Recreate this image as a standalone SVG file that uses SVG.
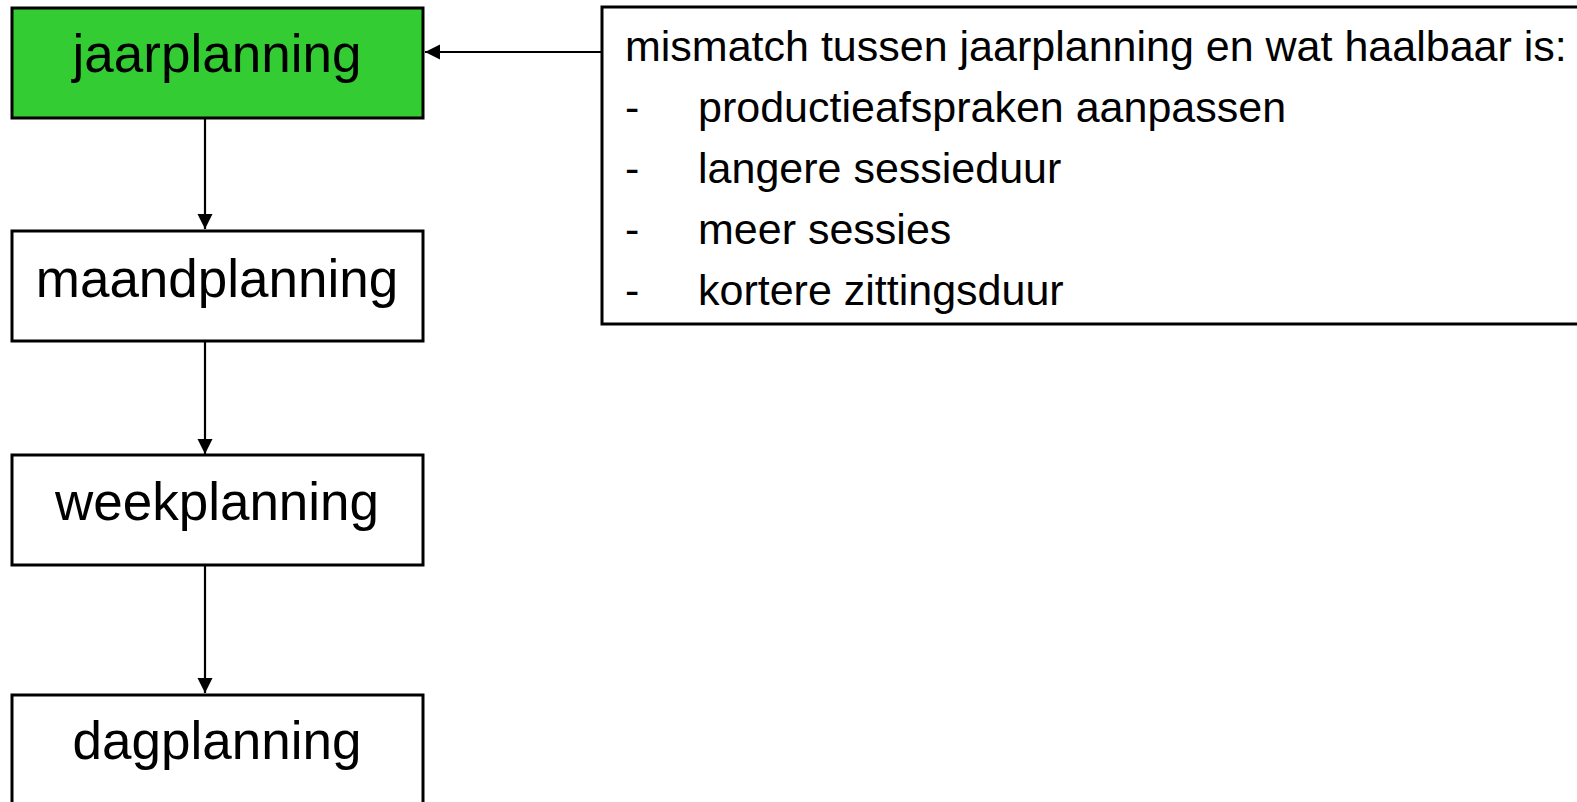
<svg xmlns="http://www.w3.org/2000/svg" width="1577" height="802" viewBox="0 0 1577 802">
<style>
.box{fill:#fff;stroke:#000;stroke-width:3}
.lbl{font-family:"Liberation Sans",Arial,sans-serif;font-size:53px;fill:#000;text-anchor:middle}
.txt{font-family:"Liberation Sans",Arial,sans-serif;font-size:43px;fill:#000}
.con{stroke:#000;stroke-width:2.2;fill:none}
</style>
<defs>
<marker id="ah" markerUnits="userSpaceOnUse" markerWidth="16" markerHeight="16" viewBox="0 0 16 16" refX="15" refY="8" orient="auto">
<path d="M0,0.5 L15,8 L0,15.5 Z" fill="#000"/>
</marker>
</defs>
<rect width="1577" height="802" fill="#fff"/>
<g id="connectors">
<line class="con" x1="205" y1="119" x2="205" y2="229" marker-end="url(#ah)"/>
<line class="con" x1="205" y1="342" x2="205" y2="454" marker-end="url(#ah)"/>
<line class="con" x1="205" y1="566" x2="205" y2="693" marker-end="url(#ah)"/>
<line class="con" x1="602" y1="52" x2="425" y2="52" marker-end="url(#ah)"/>
</g>
<g id="jaarplanning">
<rect class="box" x="12" y="8" width="411" height="110" style="fill:#33cc33"/>
<text class="lbl" x="217" y="72">jaarplanning</text>
</g>
<g id="maandplanning">
<rect class="box" x="12" y="231" width="411" height="110"/>
<text class="lbl" x="217" y="297">maandplanning</text>
</g>
<g id="weekplanning">
<rect class="box" x="12" y="455" width="411" height="110"/>
<text class="lbl" x="217" y="520">weekplanning</text>
</g>
<g id="dagplanning">
<rect class="box" x="12" y="695" width="411" height="120"/>
<text class="lbl" x="217" y="759">dagplanning</text>
</g>
<g id="callout">
<rect class="box" x="602" y="7" width="990" height="317"/>
<text class="txt" x="625" y="61">mismatch tussen jaarplanning en wat haalbaar is:</text>
<text class="txt" x="625" y="122">-</text>
<text class="txt" x="698" y="122">productieafspraken aanpassen</text>
<text class="txt" x="625" y="183">-</text>
<text class="txt" x="698" y="183">langere sessieduur</text>
<text class="txt" x="625" y="244">-</text>
<text class="txt" x="698" y="244">meer sessies</text>
<text class="txt" x="625" y="305">-</text>
<text class="txt" x="698" y="305">kortere zittingsduur</text>
</g>
</svg>
